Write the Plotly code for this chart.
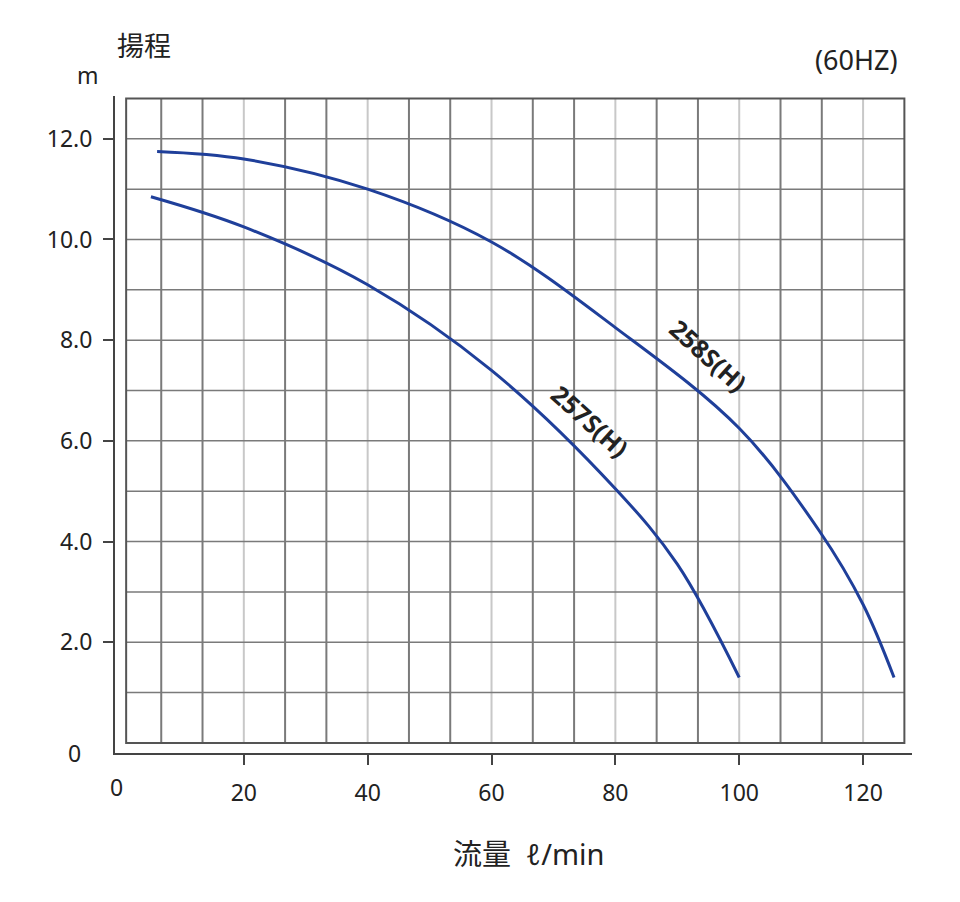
import plotly.graph_objects as go

q258 = [6, 20, 40, 60, 80, 100, 113, 120, 125]
h258 = [11.75, 11.6, 11.0, 9.95, 8.25, 6.25, 4.2, 2.75, 1.3]
q257 = [5, 20, 40, 60, 80, 90, 100]
h257 = [10.85, 10.25, 9.1, 7.4, 5.05, 3.55, 1.3]
xticks = [20, 40, 60, 80, 100, 120]
yticks = [2, 4, 6, 8, 10, 12]

F = "Noto Sans, Noto Sans CJK JP"
fig = go.Figure()
shapes = []
dark = "#7a7a7a"
light = "#c8c8c8"
for k in range(1, 19):
    xv = k * 20 / 3
    shapes.append(dict(type="line", x0=xv, x1=xv, y0=0, y1=12.8, xref="x", yref="y",
                       line=dict(color=light if k % 3 == 0 else dark, width=2), layer="below"))
for j in range(1, 13):
    shapes.append(dict(type="line", x0=1, x1=126.67, y0=j, y1=j, xref="x", yref="y",
                       line=dict(color=dark, width=1.5), layer="below"))
shapes.append(dict(type="rect", x0=1, x1=126.67, y0=0, y1=12.8, xref="x", yref="y",
                   line=dict(color="#555", width=2), layer="below"))
fig.add_trace(go.Scatter(x=q258, y=h258, mode="lines", line=dict(color="#1f3f9a", width=3, shape="spline")))
fig.add_trace(go.Scatter(x=q257, y=h257, mode="lines", line=dict(color="#1f3f9a", width=3, shape="spline")))
ann = [
    dict(x=95, y=7.7, text="<b>258S(H)</b>", textangle=42, font=dict(size=25, color="#222")),
    dict(x=76, y=6.4, text="<b>257S(H)</b>", textangle=42, font=dict(size=25, color="#222")),
    dict(xref="paper", yref="paper", x=-0.05, y=1.005, text="m", font=dict(size=23), yanchor="bottom"),
    dict(xref="paper", yref="paper", x=0.0, y=1.045, text="揚程", font=dict(size=27), xanchor="left", yanchor="bottom"),
    dict(xref="paper", yref="paper", x=0.985, y=1.025, text="(60HZ)", font=dict(size=27), xanchor="right", yanchor="bottom"),
    dict(xref="paper", yref="paper", x=-0.04, y=0.0, text="0", xanchor="right", yanchor="middle", font=dict(size=23)),
    dict(xref="paper", yref="paper", x=-0.009, y=-0.025, text="0", yanchor="top", font=dict(size=23)),
    dict(xref="paper", yref="paper", x=0.52, y=-0.12, text="流量  <i>ℓ</i>/min", font=dict(size=29), yanchor="top"),
]
for a in ann:
    a.setdefault("showarrow", False)
    a["font"].setdefault("family", F)
    a["font"].setdefault("color", "#222")
fig.update_layout(
    width=960, height=902, plot_bgcolor="white", paper_bgcolor="white", showlegend=False,
    margin=dict(l=107, r=56, t=88, b=157, autoexpand=False), shapes=shapes, annotations=ann,
    font=dict(family=F, size=23, color="#222"),
    xaxis=dict(range=[-0.8, 127.9], tickvals=xticks, showgrid=False, zeroline=False,
               showline=True, linecolor="#444", linewidth=2, ticks="outside", ticklen=10,
               tickwidth=2, tickcolor="#444", ticklabelstandoff=8, automargin=False),
    yaxis=dict(range=[-0.2, 12.85], tickvals=yticks, ticktext=[f"{v:.1f}" for v in yticks],
               showgrid=False, zeroline=False, showline=True, linecolor="#444", linewidth=2,
               ticks="outside", ticklen=10, tickwidth=2, tickcolor="#444", ticklabelstandoff=6,
               automargin=False),
)
fig.write_html("out.html")
